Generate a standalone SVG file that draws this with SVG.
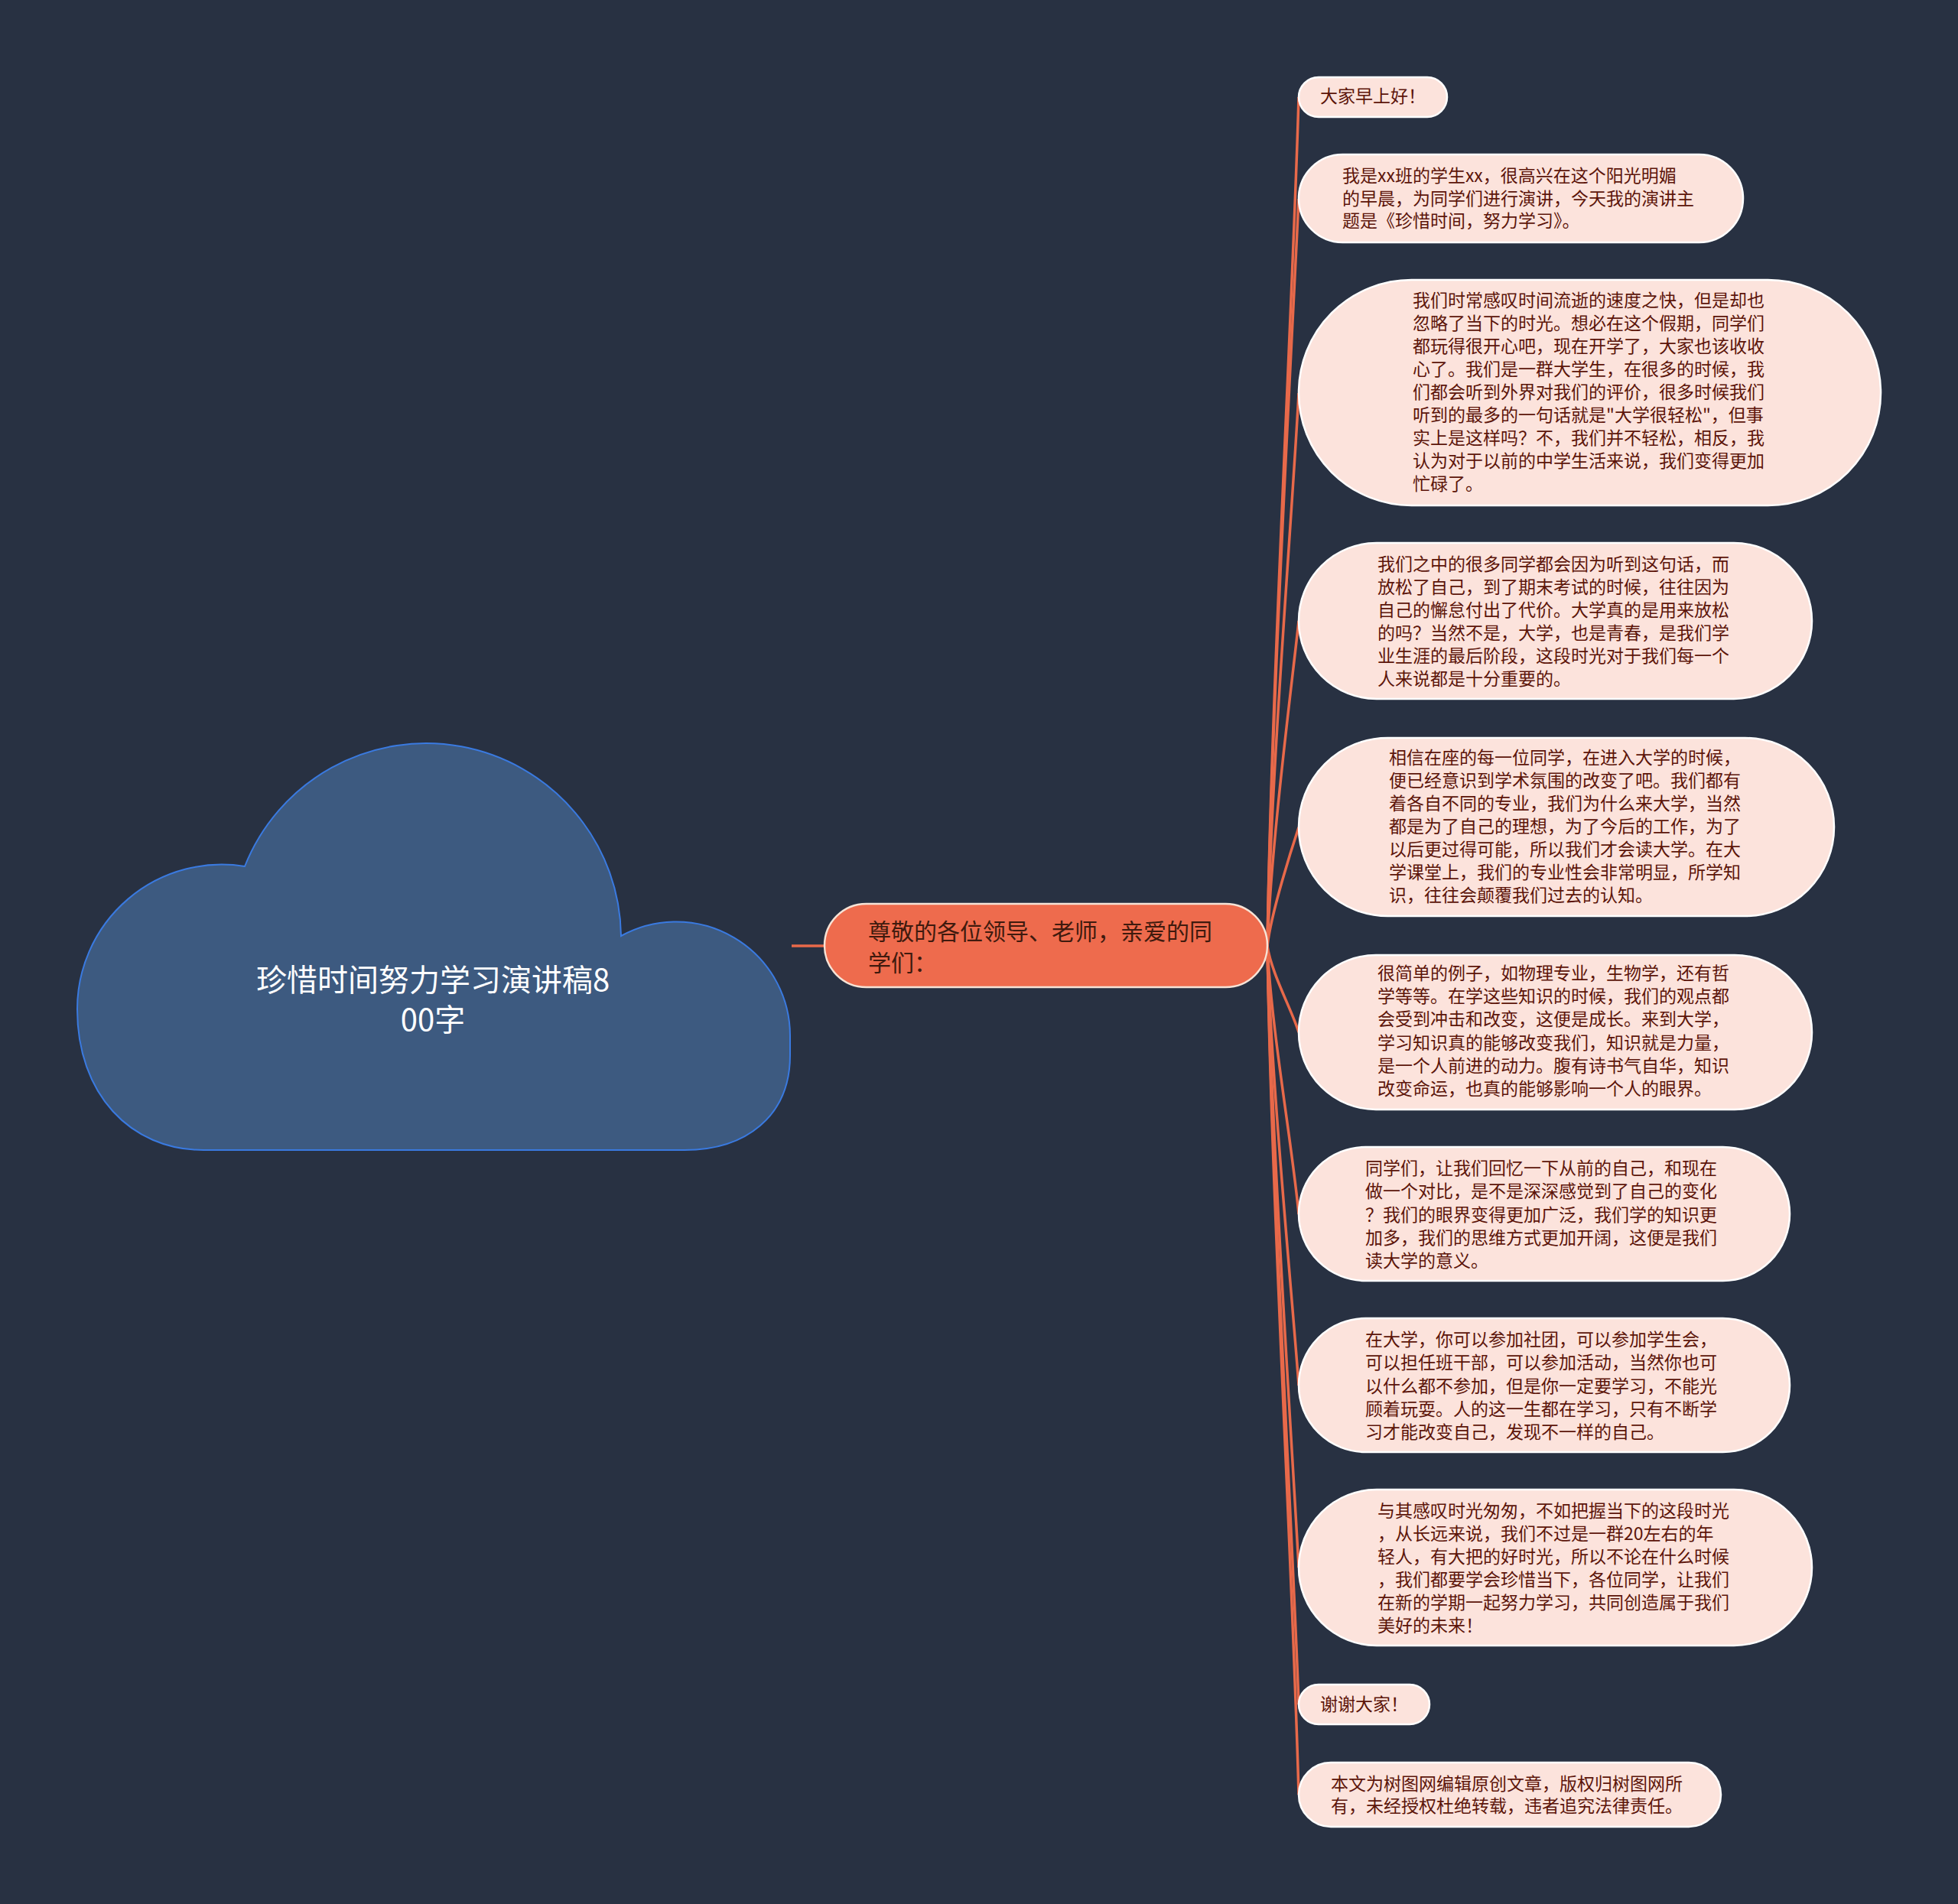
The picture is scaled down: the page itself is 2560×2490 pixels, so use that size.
<svg xmlns="http://www.w3.org/2000/svg" width="2560" height="2490" viewBox="0 0 2560 2490">
<style>
.bg{fill:#283142}
.cloud{fill:#3d5a80;stroke:#3a7ae0;stroke-width:2}
.title{font-family:"Noto Sans CJK SC","Noto Sans",sans-serif;font-size:40px;fill:#ffffff;text-anchor:middle}
.main{fill:#ee6b4d;stroke:#f6e3d6;stroke-width:2.5}
.maintxt{font-family:"Noto Sans CJK SC","Noto Sans",sans-serif;font-size:30px;fill:#3f1a0e}
.leaf{fill:#fce3dc;stroke:#ffffff;stroke-width:2.5}
.txt{font-family:"Noto Sans CJK SC","Noto Sans",sans-serif;font-size:23px;fill:#5c150a}
.link{fill:none;stroke:#e8694a;stroke-width:3.5}
</style>
<rect class="bg" x="0" y="0" width="2560" height="2490"/>

<g id="connectors">
<path class="link" d="M1035 1237 L1078 1237"/>
<path class="link" d="M1657 1237 C1662 904 1690 404 1698 127"/>
<path class="link" d="M1657 1237 C1662 932 1690 432 1698 260"/>
<path class="link" d="M1657 1237 C1662 1006 1690 667 1698 514"/>
<path class="link" d="M1657 1237 C1662 1101 1690 888 1698 812"/>
<path class="link" d="M1657 1237 C1662 1193 1690 1106 1698 1082"/>
<path class="link" d="M1657 1237 C1662 1272 1690 1323 1698 1350"/>
<path class="link" d="M1657 1237 C1662 1346 1690 1500 1698 1588"/>
<path class="link" d="M1657 1237 C1662 1414 1690 1700 1698 1812"/>
<path class="link" d="M1657 1237 C1662 1484 1690 1900 1698 2050"/>
<path class="link" d="M1657 1237 C1662 1535 1690 2000 1698 2229"/>
<path class="link" d="M1657 1237 C1662 1559 1690 2050 1698 2347"/>
</g>

<g id="root">
<path class="cloud" d="M101 1320 A189 189 0 0 1 320 1133 A255 255 0 0 1 812 1224 A149 149 0 0 1 1033 1354 L1033 1380 C1033 1460 975 1504 895 1504 L266 1504 C170 1504 101 1430 101 1320 Z"/>
<text class="title"><tspan x="566" y="1296">珍惜时间努力学习演讲稿8</tspan><tspan x="566" y="1348">00字</tspan></text>
</g>

<g id="main">
<rect class="main" x="1078" y="1182" width="579" height="109" rx="54.5" ry="54.5"/>
<text class="maintxt"><tspan x="1135" y="1229">尊敬的各位领导、老师，亲爱的同</tspan><tspan x="1135" y="1270">学们：</tspan></text>
</g>

<g id="n1">
<rect class="leaf" x="1698" y="101" width="194" height="52" rx="26" ry="26"/>
<text class="txt" x="1726" y="134">大家早上好！</text>
</g>

<g id="n2">
<rect class="leaf" x="1698" y="202" width="581" height="115" rx="57.5" ry="57.5"/>
<text class="txt"><tspan x="1755" y="238">我是xx班的学生xx，很高兴在这个阳光明媚</tspan><tspan x="1755" y="268">的早晨，为同学们进行演讲，今天我的演讲主</tspan><tspan x="1755" y="297">题是《珍惜时间，努力学习》。</tspan></text>
</g>

<g id="n3">
<rect class="leaf" x="1698" y="366" width="761" height="295" rx="147.5" ry="147.5"/>
<text class="txt"><tspan x="1847" y="401">我们时常感叹时间流逝的速度之快，但是却也</tspan><tspan x="1847" y="431">忽略了当下的时光。想必在这个假期，同学们</tspan><tspan x="1847" y="461">都玩得很开心吧，现在开学了，大家也该收收</tspan><tspan x="1847" y="491">心了。我们是一群大学生，在很多的时候，我</tspan><tspan x="1847" y="521">们都会听到外界对我们的评价，很多时候我们</tspan><tspan x="1847" y="551">听到的最多的一句话就是"大学很轻松"，但事</tspan><tspan x="1847" y="581">实上是这样吗？不，我们并不轻松，相反，我</tspan><tspan x="1847" y="611">认为对于以前的中学生活来说，我们变得更加</tspan><tspan x="1847" y="641">忙碌了。</tspan></text>
</g>

<g id="n4">
<rect class="leaf" x="1698" y="710" width="671" height="204" rx="102" ry="102"/>
<text class="txt"><tspan x="1801" y="746">我们之中的很多同学都会因为听到这句话，而</tspan><tspan x="1801" y="776">放松了自己，到了期末考试的时候，往往因为</tspan><tspan x="1801" y="806">自己的懈怠付出了代价。大学真的是用来放松</tspan><tspan x="1801" y="836">的吗？当然不是，大学，也是青春，是我们学</tspan><tspan x="1801" y="866">业生涯的最后阶段，这段时光对于我们每一个</tspan><tspan x="1801" y="896">人来说都是十分重要的。</tspan></text>
</g>

<g id="n5">
<rect class="leaf" x="1698" y="965" width="700" height="233" rx="116.5" ry="116.5"/>
<text class="txt"><tspan x="1816" y="999">相信在座的每一位同学，在进入大学的时候，</tspan><tspan x="1816" y="1029">便已经意识到学术氛围的改变了吧。我们都有</tspan><tspan x="1816" y="1059">着各自不同的专业，我们为什么来大学，当然</tspan><tspan x="1816" y="1089">都是为了自己的理想，为了今后的工作，为了</tspan><tspan x="1816" y="1119">以后更过得可能，所以我们才会读大学。在大</tspan><tspan x="1816" y="1149">学课堂上，我们的专业性会非常明显，所学知</tspan><tspan x="1816" y="1179">识，往往会颠覆我们过去的认知。</tspan></text>
</g>

<g id="n6">
<rect class="leaf" x="1698" y="1249" width="671" height="202" rx="101" ry="101"/>
<text class="txt"><tspan x="1801" y="1281">很简单的例子，如物理专业，生物学，还有哲</tspan><tspan x="1801" y="1311">学等等。在学这些知识的时候，我们的观点都</tspan><tspan x="1801" y="1341">会受到冲击和改变，这便是成长。来到大学，</tspan><tspan x="1801" y="1372">学习知识真的能够改变我们，知识就是力量，</tspan><tspan x="1801" y="1402">是一个人前进的动力。腹有诗书气自华，知识</tspan><tspan x="1801" y="1432">改变命运，也真的能够影响一个人的眼界。</tspan></text>
</g>

<g id="n7">
<rect class="leaf" x="1698" y="1500" width="642" height="175" rx="87.5" ry="87.5"/>
<text class="txt"><tspan x="1785" y="1536">同学们，让我们回忆一下从前的自己，和现在</tspan><tspan x="1785" y="1566">做一个对比，是不是深深感觉到了自己的变化</tspan><tspan x="1785" y="1597">？我们的眼界变得更加广泛，我们学的知识更</tspan><tspan x="1785" y="1627">加多，我们的思维方式更加开阔，这便是我们</tspan><tspan x="1785" y="1657">读大学的意义。</tspan></text>
</g>

<g id="n8">
<rect class="leaf" x="1698" y="1724" width="642" height="175" rx="87.5" ry="87.5"/>
<text class="txt"><tspan x="1785" y="1760">在大学，你可以参加社团，可以参加学生会，</tspan><tspan x="1785" y="1790">可以担任班干部，可以参加活动，当然你也可</tspan><tspan x="1785" y="1821">以什么都不参加，但是你一定要学习，不能光</tspan><tspan x="1785" y="1851">顾着玩耍。人的这一生都在学习，只有不断学</tspan><tspan x="1785" y="1881">习才能改变自己，发现不一样的自己。</tspan></text>
</g>

<g id="n9">
<rect class="leaf" x="1698" y="1948" width="671" height="204" rx="102" ry="102"/>
<text class="txt"><tspan x="1801" y="1984">与其感叹时光匆匆，不如把握当下的这段时光</tspan><tspan x="1801" y="2014">，从长远来说，我们不过是一群20左右的年</tspan><tspan x="1801" y="2044">轻人，有大把的好时光，所以不论在什么时候</tspan><tspan x="1801" y="2074">，我们都要学会珍惜当下，各位同学，让我们</tspan><tspan x="1801" y="2104">在新的学期一起努力学习，共同创造属于我们</tspan><tspan x="1801" y="2134">美好的未来！</tspan></text>
</g>

<g id="n10">
<rect class="leaf" x="1698" y="2203" width="171" height="52" rx="26" ry="26"/>
<text class="txt" x="1726" y="2237">谢谢大家！</text>
</g>

<g id="n11">
<rect class="leaf" x="1698" y="2305" width="552" height="84" rx="42" ry="42"/>
<text class="txt"><tspan x="1740" y="2341">本文为树图网编辑原创文章，版权归树图网所</tspan><tspan x="1740" y="2370">有，未经授权杜绝转载，违者追究法律责任。</tspan></text>
</g>
</svg>
